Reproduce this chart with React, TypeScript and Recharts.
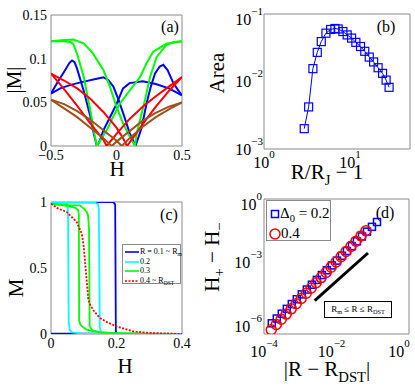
import { LineChart, Line, XAxis, YAxis, ReferenceArea } from "recharts";

const SERIF = "'Liberation Serif', 'Times New Roman', Times, serif";
const BOX = "#8a8a8a";

// (a) |M| against H, two sweep branches for each disorder
const aBlueUp = [[-0.5, 0.06], [-0.43, 0.066], [-0.35, 0.07], [-0.25, 0.0737], [-0.15, 0.077], [-0.1, 0.0787], [-0.06, 0.075], [-0.024, 0.068], [0.01, 0.055], [0.052, 0.037], [0.1, 0.015], [0.145, 0], [0.19, 0.02], [0.23, 0.049], [0.26, 0.067], [0.294, 0.083], [0.33, 0.091], [0.357, 0.093], [0.39, 0.087], [0.434, 0.072], [0.47, 0.064], [0.5, 0.058]];
const aBlueDown = [[-0.5, 0.06], [-0.45, 0.073], [-0.4, 0.085], [-0.36, 0.095], [-0.34, 0.098], [-0.32, 0.096], [-0.3, 0.088], [-0.25, 0.063], [-0.2, 0.034], [-0.17, 0.012], [-0.15, 0], [-0.13, 0.005], [-0.1, 0.018], [-0.05, 0.033], [0, 0.048], [0.05, 0.066], [0.1, 0.072], [0.2, 0.074], [0.3, 0.071], [0.4, 0.066], [0.5, 0.058]];
const aGreenUp = [[-0.5, 0.12], [-0.42, 0.121], [-0.33, 0.122], [-0.25, 0.1175], [-0.18, 0.106], [-0.1, 0.087], [-0.05, 0.068], [0, 0.045], [0.05, 0.026], [0.1, 0.011], [0.141, 0], [0.154, 0.0145], [0.18, 0.03], [0.218, 0.053], [0.256, 0.079], [0.307, 0.102], [0.383, 0.116], [0.44, 0.119], [0.5, 0.12]];
const aGreenDown = [[-0.5, 0.12], [-0.42, 0.12], [-0.35, 0.119], [-0.33, 0.117], [-0.3, 0.105], [-0.25, 0.079], [-0.2, 0.041], [-0.165, 0.011], [-0.15, 0], [-0.075, 0.018], [-0.024, 0.034], [0.027, 0.049], [0.103, 0.064], [0.18, 0.079], [0.23, 0.095], [0.28, 0.108], [0.38, 0.117], [0.5, 0.12]];
const aRedUp = [[-0.5, 0.083], [-0.4, 0.075], [-0.3, 0.066], [-0.2, 0.054], [-0.1, 0.039], [0, 0.021], [0.05, 0.009], [0.08, 0], [0.15, 0.014], [0.2, 0.025], [0.3, 0.045], [0.4, 0.063], [0.5, 0.079]];
const aRedDown = [[-0.5, 0.083], [-0.4, 0.065], [-0.3, 0.046], [-0.2, 0.026], [-0.1, 0.007], [-0.075, 0], [0, 0.014], [0.1, 0.031], [0.2, 0.045], [0.3, 0.057], [0.4, 0.068], [0.5, 0.079]];
const aBrownUp = [[-0.5, 0.053], [-0.4, 0.048], [-0.3, 0.04], [-0.2, 0.03], [-0.1, 0.018], [0, 0.006], [0.04, 0], [0.1, 0.009], [0.2, 0.022], [0.3, 0.033], [0.4, 0.042], [0.5, 0.05]];
const aBrownDown = [[-0.5, 0.053], [-0.4, 0.043], [-0.3, 0.033], [-0.2, 0.021], [-0.1, 0.009], [-0.037, 0], [0, 0.005], [0.1, 0.017], [0.2, 0.029], [0.3, 0.038], [0.4, 0.045], [0.5, 0.05]];
const aTicksX = [-0.5, 0, 0.5];
const aTicksY = [0, 0.05, 0.1, 0.15];

// (b) loop area against R/R_J - 1
const bRatio = [2.94, 3.31, 3.71, 4.17, 4.64, 5.26, 5.97, 6.69, 7.31, 8.29, 9.3, 10.46, 11.74, 13.3, 14.9, 16.8, 18.9, 21.3, 24.0, 26.4, 28.6];
const bArea = [2.0e-3, 4.2e-3, 1.55e-2, 2.7e-2, 3.9e-2, 5.2e-2, 5.9e-2, 6.1e-2, 6.0e-2, 5.5e-2, 4.9e-2, 4.4e-2, 3.8e-2, 3.3e-2, 2.8e-2, 2.3e-2, 1.95e-2, 1.6e-2, 1.32e-2, 1.05e-2, 8.2e-3];
const bTicksX = [1, 10];
const bTicksY = [1e-3, 1e-2, 1e-1];

// (c) M against H for several R
const cBlue = [[0, 1], [0.185, 1], [0.192, 0.995], [0.196, 0.98], [0.197, 0.5], [0.198, 0.02], [0.2, 0.005], [0.25, 0.001], [0.4, 0]];
const cBlueLow = [[0, 0.002], [0.197, 0.002]];
const cCyanA = [[0, 0.995], [0.045, 0.993], [0.05, 0.98], [0.052, 0.9], [0.053, 0.5], [0.054, 0.1], [0.057, 0.03], [0.065, 0.012], [0.09, 0.005], [0.15, 0.002], [0.4, 0]];
const cCyanB = [[0, 0.995], [0.135, 0.993], [0.143, 0.985], [0.146, 0.95], [0.1475, 0.5], [0.149, 0.05], [0.153, 0.015], [0.17, 0.005], [0.25, 0.001], [0.4, 0]];
const cGreenA = [[0, 0.985], [0.03, 0.978], [0.06, 0.965], [0.075, 0.955], [0.083, 0.94], [0.085, 0.9], [0.0855, 0.5], [0.086, 0.1], [0.09, 0.07], [0.1, 0.048], [0.109, 0.033], [0.13, 0.02], [0.152, 0.0126], [0.2, 0.006], [0.3, 0.002], [0.4, 0]];
const cGreenB = [[0, 0.985], [0.06, 0.975], [0.088, 0.975], [0.1, 0.95], [0.108, 0.93], [0.113, 0.9], [0.116, 0.8], [0.117, 0.5], [0.118, 0.06], [0.125, 0.03], [0.15, 0.013], [0.2, 0.005], [0.3, 0.001], [0.4, 0]];
const cRed = [[0, 0.987], [0.022, 0.95], [0.048, 0.925], [0.078, 0.85], [0.094, 0.76], [0.1, 0.66], [0.107, 0.46], [0.114, 0.26], [0.12, 0.22], [0.129, 0.18], [0.15, 0.12], [0.175, 0.085], [0.2, 0.058], [0.25, 0.02], [0.3, 0.008], [0.4, 0]];
const cTicksX = [0, 0.2, 0.4];
const cTicksY = [0, 0.5, 1];

// (d) H+ - H- against |R - R_DST|
const dSqX = [1.70e-4, 2.39e-4, 3.37e-4, 4.74e-4, 6.67e-4, 9.38e-4, 1.32e-3, 1.86e-3, 2.62e-3, 3.68e-3, 5.19e-3, 7.30e-3, 1.03e-2, 1.45e-2, 2.04e-2, 2.87e-2, 4.04e-2, 5.68e-2, 7.99e-2, 0.1125, 0.158, 0.223];
const dSqY = [1.37e-6, 2.31e-6, 3.91e-6, 6.59e-6, 1.11e-5, 1.88e-5, 3.18e-5, 5.36e-5, 9.05e-5, 1.53e-4, 2.58e-4, 4.36e-4, 7.36e-4, 1.24e-3, 2.10e-3, 3.54e-3, 5.98e-3, 1.01e-2, 1.71e-2, 2.88e-2, 4.86e-2, 8.22e-2];
const dCiX = [1.64e-4, 2.31e-4, 3.25e-4, 4.56e-4, 6.41e-4, 9.00e-4, 1.265e-3, 1.78e-3, 2.50e-3, 3.51e-3, 4.93e-3, 6.93e-3, 9.73e-3, 1.37e-2, 1.92e-2, 2.70e-2, 3.79e-2, 5.33e-2, 7.49e-2, 0.105];
const dCiY = [6.84e-7, 1.205e-6, 2.12e-6, 3.73e-6, 6.58e-6, 1.16e-5, 2.04e-5, 3.60e-5, 6.33e-5, 1.115e-4, 1.96e-4, 3.46e-4, 6.09e-4, 1.07e-3, 1.89e-3, 3.33e-3, 5.86e-3, 1.03e-2, 1.82e-2, 3.20e-2];
const dGuideX = [3.18e-3, 0.1205];
const dGuideY = [1.6e-5, 2.84e-3];
const dTicksX = [1e-4, 1e-2, 1];
const dTicksY = [1e-6, 1e-3, 1];

const hm = (p: number[][]) => p.map(([h, m]) => ({ h, m }));
const xy = (xs: number[], ys: number[]) => xs.map((x, i) => ({ x, y: ys[i] }));

const minus = (v: number) => String(v).replace("-", "\u2212");

const tickFont = { fontFamily: SERIF, fontSize: 14, fill: "#000" };

const expText = (v: number) => {
  const e = Math.round(Math.log10(v));
  return e < 0 ? `\u2212${-e}` : `${e}`;
};

const LogTickY = (top: number) => (props: any) => {
  const { x, y, payload } = props;
  const shift = payload.value === top ? 5 : 0;
  return (
    <text x={x} y={y + shift + 5.5} textAnchor="end" fontFamily={SERIF} fill="#000">
      <tspan fontSize={16}>10</tspan>
      <tspan fontSize={11} dy={-10}>{expText(payload.value)}</tspan>
    </text>
  );
};

const LogTickX = (off: number) => (props: any) => {
  const { x, y, payload } = props;
  return (
    <text x={x} y={y + off} textAnchor="middle" fontFamily={SERIF} fill="#000">
      <tspan fontSize={16}>10</tspan>
      <tspan fontSize={11} dy={-10}>{expText(payload.value)}</tspan>
    </text>
  );
};

const Square = (size: number, color: string, width: number) => (props: any) => (
  <rect
    key={props.index}
    x={props.cx - size / 2}
    y={props.cy - size / 2}
    width={size}
    height={size}
    fill="none"
    stroke={color}
    strokeWidth={width}
  />
);

const Ring = (r: number, color: string, width: number) => (props: any) => (
  <circle key={props.index} cx={props.cx} cy={props.cy} r={r} fill="none" stroke={color} strokeWidth={width} />
);

const Txt = ({ x, y, size, rotate, children }: any) => (
  <div
    style={{
      position: "absolute",
      left: x,
      top: y,
      transform: `translate(-50%, -50%)${rotate ? " rotate(-90deg)" : ""}`,
      fontFamily: SERIF,
      fontSize: size,
      lineHeight: 1,
      whiteSpace: "nowrap",
      color: "#000",
    }}
  >
    {children}
  </div>
);

const Sub = ({ children, s = 0.7, d = 5 }: any) => (
  <span style={{ fontSize: `${s}em`, position: "relative", top: d }}>{children}</span>
);

const aSeries = [
  { d: aBlueUp, c: "#0000ff" },
  { d: aBlueDown, c: "#0000ff" },
  { d: aGreenUp, c: "#00ff00" },
  { d: aGreenDown, c: "#00ff00" },
  { d: aRedUp, c: "#ff0000" },
  { d: aRedDown, c: "#ff0000" },
  { d: aBrownUp, c: "#a0501e" },
  { d: aBrownDown, c: "#a0501e" },
];

const cSeries = [
  { d: cBlue, c: "#0000ff", dash: undefined },
  { d: cBlueLow, c: "#0000ff", dash: undefined },
  { d: cCyanA, c: "#00ffff", dash: undefined },
  { d: cCyanB, c: "#00ffff", dash: undefined },
  { d: cGreenA, c: "#00ff00", dash: undefined },
  { d: cGreenB, c: "#00ff00", dash: undefined },
  { d: cRed, c: "#ff0000", dash: "2 1.5" },
];

const cLegend = [
  { c: "#0000ff", dash: undefined, label: <>R = 0.1 ~ R<Sub d={2}>m</Sub></> },
  { c: "#00ffff", dash: undefined, label: <>0.2</> },
  { c: "#00ff00", dash: undefined, label: <>0.3</> },
  { c: "#ff0000", dash: "2 1.5", label: <>0.4 ~ R<Sub d={2}>DST</Sub></> },
];

export default function App() {
  return (
    <div style={{ position: "absolute", left: 0, top: 0, width: 415, height: 388, background: "#fff", overflow: "hidden" }}>
      {/* (a) */}
      <div style={{ position: "absolute", left: 0, top: 0 }}>
        <LineChart width={200} height={185} margin={{ top: 15, right: 18, bottom: 0, left: 0 }}>
          <XAxis type="number" dataKey="h" domain={[-0.5, 0.5]} ticks={aTicksX} tickFormatter={minus} allowDataOverflow axisLine={false} tickLine={false} tickSize={4} tickMargin={0} height={39} tick={tickFont} />
          <YAxis type="number" domain={[0, 0.15]} ticks={aTicksY} allowDataOverflow axisLine={false} tickLine={false} tickSize={4} tickMargin={0} width={51} tick={tickFont} />
          <ReferenceArea x1={-0.5} x2={0.5} y1={0} y2={0.15} fill="none" stroke={BOX} strokeWidth={1} />
          {aSeries.map((s, i) => (
            <Line key={i} data={hm(s.d)} dataKey="m" stroke={s.c} strokeWidth={2} dot={false} activeDot={false} isAnimationActive={false} />
          ))}
        </LineChart>
      </div>

      {/* (b) */}
      <div style={{ position: "absolute", left: 205, top: 0 }}>
        <LineChart width={210} height={195} margin={{ top: 14, right: 5, bottom: 0, left: 0 }}>
          <XAxis type="number" dataKey="x" scale="log" domain={[1, 50.1]} ticks={bTicksX} allowDataOverflow axisLine={false} tickLine={false} tickSize={0} tickMargin={0} height={46} tick={LogTickX(19)} />
          <YAxis type="number" scale="log" domain={[1e-3, 1e-1]} ticks={bTicksY} allowDataOverflow axisLine={false} tickLine={false} tickSize={1} tickMargin={0} width={59} tick={LogTickY(1e-1)} />
          <ReferenceArea x1={1} x2={50.1} y1={1e-3} y2={1e-1} fill="none" stroke={BOX} strokeWidth={1} />
          <Line data={xy(bRatio, bArea)} dataKey="y" stroke="#0000ff" strokeWidth={1} dot={Square(8, "#0000ff", 1.2)} activeDot={false} isAnimationActive={false} />
        </LineChart>
      </div>

      {/* (c) */}
      <div style={{ position: "absolute", left: 0, top: 190 }}>
        <LineChart width={200} height={190} margin={{ top: 12, right: 18, bottom: 0, left: 0 }}>
          <XAxis type="number" dataKey="h" domain={[0, 0.4]} ticks={cTicksX} allowDataOverflow axisLine={false} tickLine={false} tickSize={4} tickMargin={0} height={46} tick={tickFont} />
          <YAxis type="number" domain={[0, 1]} ticks={cTicksY} allowDataOverflow axisLine={false} tickLine={false} tickSize={4} tickMargin={0} width={51} tick={tickFont} />
          <ReferenceArea x1={0} x2={0.4} y1={0} y2={1} fill="none" stroke={BOX} strokeWidth={1} />
          {cSeries.map((s, i) => (
            <Line key={i} data={hm(s.d)} dataKey="m" stroke={s.c} strokeWidth={1.8} strokeDasharray={s.dash} dot={false} activeDot={false} isAnimationActive={false} />
          ))}
        </LineChart>
      </div>

      {/* (d) */}
      <div style={{ position: "absolute", left: 205, top: 190 }}>
        <LineChart width={210} height={198} margin={{ top: 9, right: 6, bottom: 0, left: 0 }}>
          <XAxis type="number" dataKey="x" scale="log" domain={[1e-4, 1.98]} ticks={dTicksX} allowDataOverflow axisLine={false} tickLine={false} tickSize={0} tickMargin={0} height={54} tick={LogTickX(23)} />
          <YAxis type="number" scale="log" domain={[4.29e-7, 1]} ticks={dTicksY} allowDataOverflow axisLine={false} tickLine={false} tickSize={2} tickMargin={0} width={59} tick={LogTickY(1)} />
          <ReferenceArea x1={1e-4} x2={1.98} y1={4.29e-7} y2={1} fill="none" stroke={BOX} strokeWidth={1} />
          <Line data={xy(dGuideX, dGuideY)} dataKey="y" stroke="#000" strokeWidth={3} dot={false} activeDot={false} isAnimationActive={false} />
          <Line data={xy(dSqX, dSqY)} dataKey="y" stroke="none" dot={Square(7, "#0000ff", 1.5)} activeDot={false} isAnimationActive={false} />
          <Line data={xy(dCiX, dCiY)} dataKey="y" stroke="none" dot={Ring(5, "#ff0000", 1.5)} activeDot={false} isAnimationActive={false} />
        </LineChart>
      </div>

      {/* axis titles and panel letters */}
      <Txt x={14} y={80} size={21} rotate>|M|</Txt>
      <Txt x={117} y={169} size={21}>H</Txt>
      <Txt x={170} y={27} size={16}>(a)</Txt>

      <Txt x={217} y={73} size={21} rotate>Area</Txt>
      <Txt x={327} y={172} size={21}>R/R<Sub s={0.7} d={6}>J</Sub> − 1</Txt>
      <Txt x={386} y={27} size={16}>(b)</Txt>

      <Txt x={16} y={288} size={21} rotate>M</Txt>
      <Txt x={125} y={366} size={21}>H</Txt>
      <Txt x={169} y={215} size={16}>(c)</Txt>

      <Txt x={212} y={257} size={21} rotate>H<Sub d={5}>+</Sub> − H<Sub d={5}>−</Sub></Txt>
      <Txt x={327} y={369} size={21}>|R − R<Sub d={6}>DST</Sub>|</Txt>
      <Txt x={385} y={213} size={16}>(d)</Txt>

      {/* legend (c) */}
      <div style={{ position: "absolute", left: 122, top: 244, width: 59, height: 40, background: "#fff", border: `1px solid ${BOX}`, boxSizing: "border-box", fontFamily: SERIF, fontSize: 8, lineHeight: 1 }}>
        {cLegend.map((e, i) => (
          <div key={i} style={{ position: "absolute", left: 2, top: 3 + i * 9.5, display: "flex", alignItems: "center", whiteSpace: "nowrap" }}>
            <svg width={14} height={6} style={{ marginRight: 1 }}>
              <line x1={0} y1={3} x2={14} y2={3} stroke={e.c} strokeWidth={1.6} strokeDasharray={e.dash} />
            </svg>
            <span>{e.label}</span>
          </div>
        ))}
      </div>

      {/* legend (d) */}
      <div style={{ position: "absolute", left: 266, top: 200, width: 65, height: 41, background: "#fff", border: `1.5px solid ${BOX}`, boxSizing: "border-box", fontFamily: SERIF, fontSize: 15, lineHeight: 1 }}>
        <div style={{ position: "absolute", left: 3, top: 5, display: "flex", alignItems: "center", whiteSpace: "nowrap" }}>
          <svg width={10} height={10}>
            <rect x={1.5} y={1.5} width={7} height={7} fill="none" stroke="#0000ff" strokeWidth={1.5} />
          </svg>
          <span>Δ<Sub d={4}>0</Sub> = 0.2</span>
        </div>
        <div style={{ position: "absolute", left: 2, top: 25, display: "flex", alignItems: "center", whiteSpace: "nowrap" }}>
          <svg width={12} height={12}>
            <circle cx={6} cy={6} r={5} fill="none" stroke="#ff0000" strokeWidth={1.5} />
          </svg>
          <span>0.4</span>
        </div>
      </div>

      {/* range note (d) */}
      <div style={{ position: "absolute", left: 324, top: 301, width: 68, height: 17, border: "1px solid #000", boxSizing: "border-box", background: "#fff", fontFamily: SERIF, fontSize: 9, lineHeight: "15px", textAlign: "center", whiteSpace: "nowrap" }}>
        R<Sub d={2}>m</Sub> ≤ R ≤ R<Sub d={2}>DST</Sub>
      </div>
    </div>
  );
}
